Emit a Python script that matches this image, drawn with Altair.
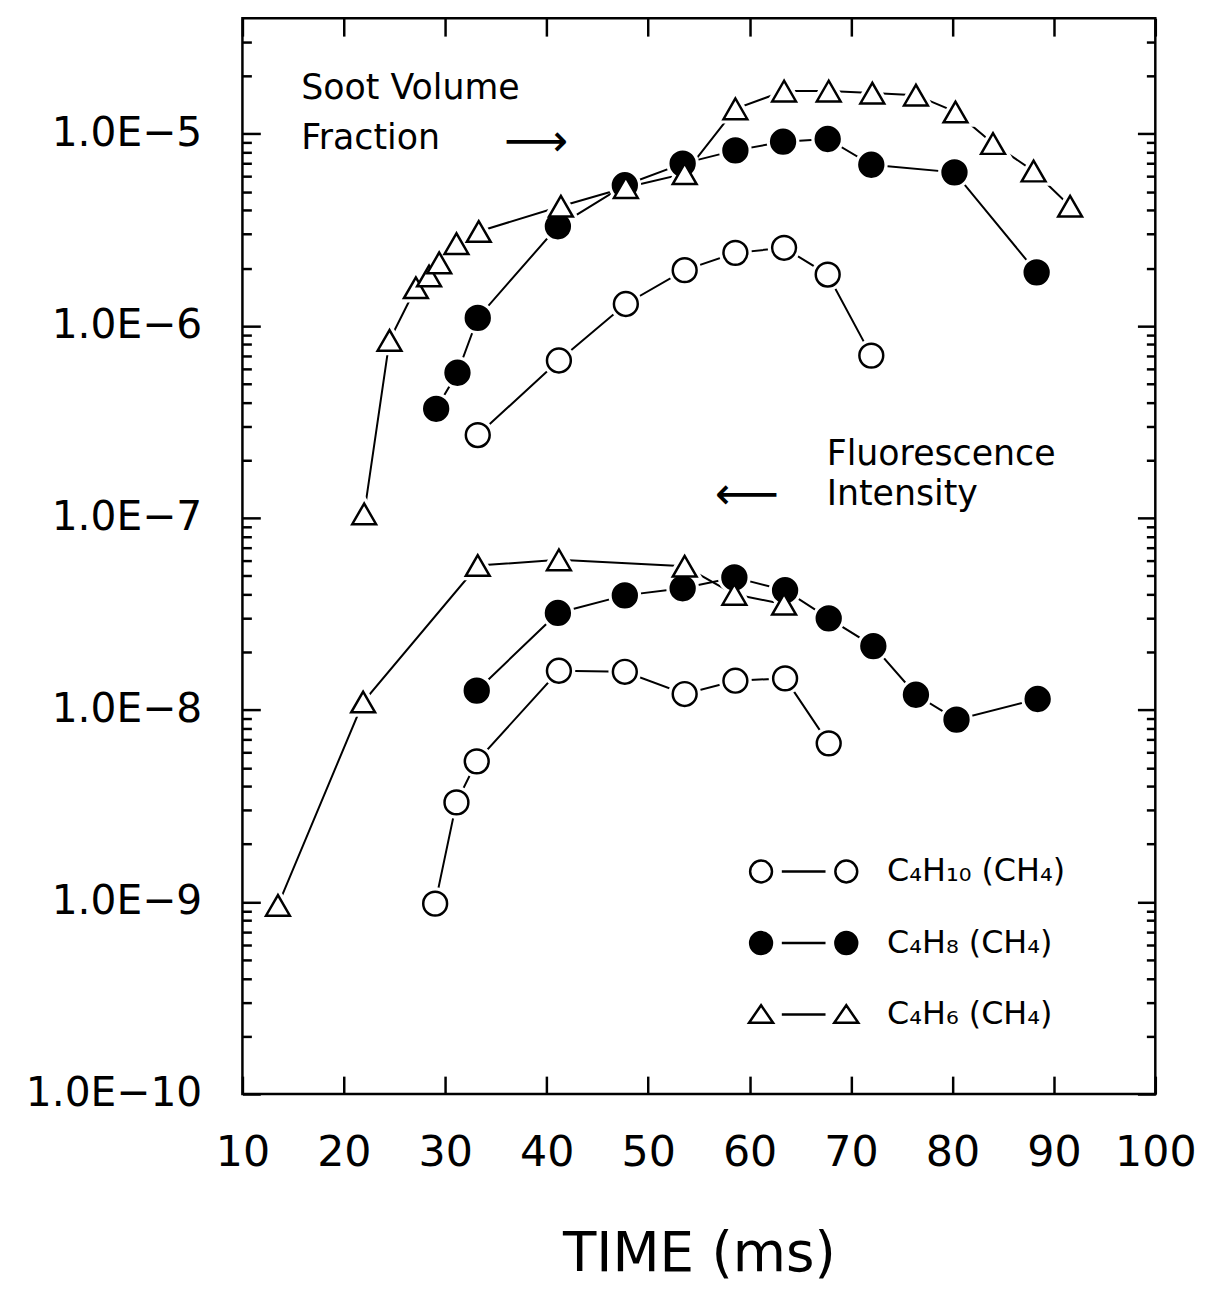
import altair as alt
import pandas as pd

FONT = "DejaVu Sans"
FUELS = ["C₄H₁₀ (CH₄)", "C₄H₈ (CH₄)", "C₄H₆ (CH₄)"]

# ---- Soot volume fraction ----
soot_c4h10_t = [33.2, 41.2, 47.8, 53.6, 58.6, 63.4, 67.7, 72.0]
soot_c4h10_v = [2.7e-7, 6.6e-7, 1.3e-6, 1.95e-6, 2.4e-6, 2.55e-6, 1.85e-6, 7.0e-7]

soot_c4h8_t = [29.1, 31.2, 33.2, 41.1, 47.7, 53.4, 58.6, 63.3, 67.7, 72.0, 80.2, 88.3]
soot_c4h8_v = [3.7e-7, 5.7e-7, 1.1e-6, 3.3e-6, 5.4e-6, 7.0e-6, 8.2e-6, 9.1e-6, 9.4e-6,
               6.9e-6, 6.3e-6, 1.9e-6]

soot_c4h6_t = [22.0, 24.5, 27.1, 28.4, 29.4, 31.1, 33.3, 41.4, 47.8, 53.6, 58.6, 63.4,
               67.8, 72.1, 76.4, 80.3, 84.0, 88.0, 91.6]
soot_c4h6_v = [1.05e-7, 8.4e-7, 1.58e-6, 1.82e-6, 2.13e-6, 2.68e-6, 3.1e-6, 4.2e-6,
               5.25e-6, 6.2e-6, 1.35e-5, 1.67e-5, 1.67e-5, 1.63e-5, 1.59e-5, 1.3e-5,
               8.9e-6, 6.4e-6, 4.2e-6]

# ---- Fluorescence intensity ----
fl_c4h10_t = [29.0, 31.1, 33.1, 41.2, 47.7, 53.6, 58.6, 63.5, 67.8]
fl_c4h10_v = [9.8e-10, 3.3e-9, 5.4e-9, 1.6e-8, 1.58e-8, 1.21e-8, 1.42e-8, 1.46e-8, 6.7e-9]

fl_c4h8_t = [33.1, 41.1, 47.7, 53.4, 58.5, 63.5, 67.8, 72.2, 76.4, 80.4, 88.4]
fl_c4h8_v = [1.26e-8, 3.2e-8, 3.95e-8, 4.3e-8, 4.9e-8, 4.2e-8, 3.0e-8, 2.15e-8, 1.2e-8,
             8.9e-9, 1.14e-8]

fl_c4h6_t = [13.5, 21.9, 33.2, 41.2, 53.6, 58.5, 63.4]
fl_c4h6_v = [9.6e-10, 1.1e-8, 5.65e-8, 6.05e-8, 5.6e-8, 4.0e-8, 3.55e-8]

# ---- axis ticks ----
X_TICKS = [10, 20, 30, 40, 50, 60, 70, 80, 90, 100]
DECADES = [1e-10, 1e-9, 1e-8, 1e-7, 1e-6, 1e-5]
MINOR_MULT = [2, 3, 4, 5, 6, 7, 8, 9]
MINOR = [m * d for d in DECADES for m in MINOR_MULT if m * d < 4e-5]

# ---- annotations ----
ann_text = ["Soot Volume", "Fraction", "Fluorescence", "Intensity"]
ann_t = [15.8, 15.8, 67.6, 67.6]
ann_v = [1.73e-5, 9.5e-6, 2.14e-7, 1.33e-7]

arrow_text = ["⟶", "⟵"]
arrow_t = [35.8, 56.6]
arrow_v = [9.1e-6, 1.31e-7]

rows = []
for qty, fuel, ts, vs in [
    ("soot", FUELS[0], soot_c4h10_t, soot_c4h10_v),
    ("soot", FUELS[1], soot_c4h8_t, soot_c4h8_v),
    ("soot", FUELS[2], soot_c4h6_t, soot_c4h6_v),
    ("fluor", FUELS[0], fl_c4h10_t, fl_c4h10_v),
    ("fluor", FUELS[1], fl_c4h8_t, fl_c4h8_v),
    ("fluor", FUELS[2], fl_c4h6_t, fl_c4h6_v),
]:
    for t, v in zip(ts, vs):
        rows.append({"t": t, "v": v, "fuel": fuel, "quantity": qty, "group": qty + "|" + fuel})
df = pd.DataFrame(rows)
ann_df = pd.DataFrame({"text": ann_text, "t": ann_t, "v": ann_v})
arrow_df = pd.DataFrame({"text": arrow_text, "t": arrow_t, "v": arrow_v})

x_scale = alt.Scale(domain=[10, 100], nice=False, zero=False)
y_scale = alt.Scale(type="log", domain=[1e-10, 4e-5], nice=False)

common = dict(domain=False, grid=False, tickColor="black", tickWidth=2.5,
              labelFlush=False, labelColor="black", labelFont=FONT)

x_bottom = alt.Axis(orient="bottom", values=X_TICKS, tickSize=18, offset=-18,
                    labelPadding=38, labelFontSize=43, format="d",
                    title="TIME (ms)", titleFont=FONT, titleFontSize=55,
                    titleFontWeight="normal", titleColor="black", titlePadding=54,
                    **common)
x_top = alt.Axis(orient="top", values=X_TICKS, tickSize=18, offset=-18,
                 labels=False, title=None, **common)
y_left_major = alt.Axis(orient="left", values=DECADES, tickSize=18, offset=-18,
                        labelPadding=41, labelFontSize=41,
                        labelExpr="'1.0E−' + round(-log(datum.value) / LN10)",
                        title=None, **common)
y_left_minor = alt.Axis(orient="left", values=MINOR, tickSize=9, offset=-9,
                        labels=False, title=None, **common)
y_right_major = alt.Axis(orient="right", values=DECADES, tickSize=18, offset=-18,
                         labels=False, title=None, **common)
y_right_minor = alt.Axis(orient="right", values=MINOR, tickSize=9, offset=-9,
                         labels=False, title=None, **common)


def X(axis=None):
    return alt.X("t:Q", scale=x_scale, axis=axis)


def Y(axis=None):
    return alt.Y("v:Q", scale=y_scale, axis=axis)


shape_scale = alt.Scale(domain=FUELS, range=["circle", "circle", "triangle-up"])
fill_scale = alt.Scale(domain=FUELS, range=["white", "black", "white"])

circ_l = "M-2.9,0 A1,1 0 1,1 -4.9,0 A1,1 0 1,1 -2.9,0 Z"
circ_r = "M4.9,0 A1,1 0 1,1 2.9,0 A1,1 0 1,1 4.9,0 Z"
dash = "M-2.0,0 L2.0,0"
tri_l = "M-3.9,-0.85 L-5.0,0.75 L-2.8,0.75 Z"
tri_r = "M3.9,-0.85 L2.8,0.75 L5.0,0.75 Z"
legend_paths = [circ_l + " " + dash + " " + circ_r,
                circ_l + " " + dash + " " + circ_r,
                tri_l + " " + dash + " " + tri_r]

lines = alt.Chart(df).mark_line(color="black", strokeWidth=2).encode(
    x=X(x_bottom), y=Y(y_left_major), detail="group:N"
)

halo = alt.Chart(df).mark_point(filled=False, stroke="white", strokeWidth=9,
                                size=576, opacity=1).encode(
    x=X(), y=Y(), shape=alt.Shape("fuel:N", scale=shape_scale, legend=None)
)

pts = alt.Chart(df).mark_point(filled=True, stroke="black", strokeWidth=2.5,
                               size=576, opacity=1).encode(
    x=X(), y=Y(),
    shape=alt.Shape("fuel:N", scale=shape_scale, legend=None),
    fill=alt.Fill("fuel:N", scale=fill_scale, legend=None),
)

ax2 = alt.Chart(df).mark_point(opacity=0).encode(x=X(x_top), y=Y(y_left_minor))
ax3 = alt.Chart(df).mark_point(opacity=0).encode(x=X(), y=Y(y_right_major))
ax4 = alt.Chart(df).mark_point(opacity=0).encode(x=X(), y=Y(y_right_minor))

leg = dict(orient="none", legendX=549, legendY=843, padding=0, rowPadding=40,
           labelOffset=68, labelFontSize=32, labelFont=FONT, labelColor="black",
           labelLimit=0, symbolSize=484, symbolStrokeWidth=2.5,
           symbolStrokeColor="black", title=None, direction="vertical")

legend_layer = alt.Chart(df).mark_point(filled=True, strokeWidth=2.5, opacity=1).encode(
    x=X(), y=Y(),
    shape=alt.Shape("fuel:N", scale=alt.Scale(domain=FUELS, range=legend_paths),
                    legend=alt.Legend(**leg)),
    fill=alt.Fill("fuel:N", scale=alt.Scale(domain=FUELS, range=["white", "black", "white"]),
                  legend=alt.Legend(**leg)),
    stroke=alt.Stroke("fuel:N", scale=alt.Scale(domain=FUELS, range=["black", "black", "black"]),
                      legend=alt.Legend(**leg)),
).transform_filter("datum.t < 0")

text = alt.Chart(ann_df).mark_text(align="left", baseline="middle", font=FONT,
                                   fontSize=35, color="black").encode(
    x=X(), y=Y(), text="text:N"
)

arrows = alt.Chart(arrow_df).mark_text(align="left", baseline="middle", font=FONT,
                                       fontSize=45, color="black").encode(
    x=X(), y=Y(), text="text:N"
)

chart = alt.layer(lines, halo, pts, ax2, ax3, ax4, legend_layer, text, arrows).resolve_scale(
    shape="independent", fill="independent", stroke="independent"
).resolve_axis(
    x="independent", y="independent"
).properties(
    width=919, height=1083,
    autosize=alt.AutoSizeParams(type="none"),
    padding={"left": 236, "top": 6, "right": 47, "bottom": 192},
    background="white",
).configure_view(stroke="black", strokeWidth=2.5)

chart.save("out.html", embed_options={"renderer": "svg", "actions": False})
